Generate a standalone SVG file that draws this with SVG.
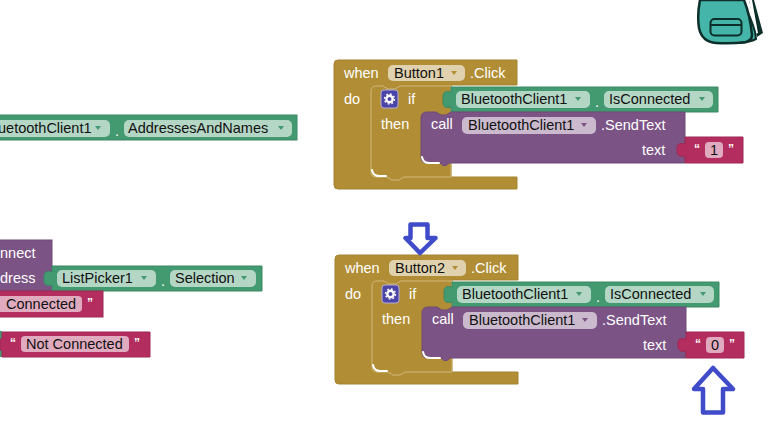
<svg xmlns="http://www.w3.org/2000/svg" width="774" height="433" viewBox="0 0 774 433">
<style>
text{font-family:"Liberation Sans",Arial,sans-serif;font-size:14.5px}
.w{fill:#fff}
.d{fill:#111}
.q{fill:#fff;font-size:12px;font-weight:bold}
.gold{fill:#b18e35;stroke:#a38330;stroke-width:1}
.goldin{fill:#b18e35;stroke:#d0b878;stroke-width:1}
.purple{fill:#7c5385;stroke:#6e4a76;stroke-width:1}
.green{fill:#439970;stroke:#3b8a64;stroke-width:1}
.pink{fill:#b32d5e;stroke:#a02954;stroke-width:1}
.fg{fill:#b4d6c5}
.fp{fill:#cbbace}
.fy{fill:#e0d2ae}
.fr{fill:#e0abbf}
.hl{fill:none;stroke:#fff;stroke-width:2;stroke-linecap:round}
.arr{fill:#fff;stroke:#3f4bc8;stroke-width:4.500;stroke-linejoin:round}
</style>
<defs>
<!-- Event handler body shared by both Click blocks -->
<g id="event-shell">
<path class="gold" d="M338 60H517V85H451V177H517V189H338Q334 189 334 185V64Q334 60 338 60Z"/>
<path class="goldin" d="M376 86H383L388 89H395L400 86H451V177H404L399 180H392L387 177H376Q371 177 371 172V91Q371 86 376 86Z"/>
<path class="hl" d="M372 170Q373 176 379 176H386"/>
<rect x="381" y="90" width="17" height="18" rx="3" fill="#4c45a8" stroke="#b5aed8"/>
<circle cx="389.500" cy="99" r="3.200" fill="none" stroke="#fff" stroke-width="2.400"/>
<circle cx="389.500" cy="99" r="5" fill="none" stroke="#fff" stroke-width="1.400" stroke-dasharray="1.800 2.100"/>
<text class="w" x="344" y="78">when</text>
<text class="w" x="344" y="104">do</text>
<text class="w" x="408" y="104">if</text>
<text class="w" x="381" y="129">then</text>
<text class="w" x="470" y="78">.Click</text>
</g>
<!-- Lookup and method blocks inside the handler -->
<g id="event-calls">
<path class="green" d="M451 87H718V112H451V107Q447 108 445 107Q443 106 443 103V96Q443 93 445 92Q447 91 451 92Z"/>
<path class="purple" d="M427 112H436L441 115H446L451 112H685V163H449L446 165.500H443L440 163H427Q421 163 421 157V118Q421 112 427 112Z"/>
<path class="hl" d="M422 157Q423 163 429 163H439"/>
<rect x="456" y="91" width="134" height="17" rx="5" class="fg"/>
<rect x="604" y="91" width="109" height="17" rx="5" class="fg"/>
<rect x="462" y="117" width="134" height="17" rx="5" class="fp"/>
<text class="d" x="461" y="104">BluetoothClient1</text>
<text class="d" x="609" y="104">IsConnected</text>
<text class="d" x="468" y="130">BluetoothClient1</text>
<text class="w" x="601" y="130">.SendText</text>
<text class="w" x="431" y="129">call</text>
<text class="w" x="642" y="155">text</text>
<text class="w" x="595" y="107">.</text>
<path d="M575 97h6l-3 4z M699 97h6l-3 4z" fill="#439970"/>
<path d="M581 123h6l-3 4z" fill="#7c5385"/>
</g>
<!-- Text block socket shape -->
<path id="text-shell" class="pink" d="M685 137H743V163H685V156Q681 157 679 155.500Q677 154 677 152V147Q677 145 679 144Q681 143 685 144Z"/>
</defs>

<!-- Backpack icon in the top corner -->
<g id="backpack">
<path d="M754 0L763 33L757 37L749 0Z" fill="#0d2f2a"/>
<path d="M749 0L755 34L758 33L752 0Z" fill="#fff"/>
<path d="M742 0Q752 20 755 32L756 39Q750 42 740 43Z" fill="#3fb3a6" stroke="#0d2f2a" stroke-width="2"/>
<path d="M700 0Q697 15 699 28Q702 42 716 43Q732 44 746 42Q752 40 752 35Q750 15 744 0Z" fill="#44b5a8" stroke="#0d2f2a" stroke-width="2.500"/>
<rect x="710.500" y="19" width="31" height="16.500" rx="4" fill="#44b5a8" stroke="#0d2f2a" stroke-width="2"/>
<path d="M710 25H742" stroke="#0d2f2a" stroke-width="2"/>
</g>

<!-- Button1 handler -->
<g id="button1-click">
<use href="#event-shell"/>
<rect x="388" y="65" width="77" height="16" rx="5" class="fy"/>
<text class="d" x="394" y="78">Button1</text>
<path d="M451 71h6l-3 4z" fill="#b18e35"/>
<use href="#event-calls"/>
<use href="#text-shell"/>
<text class="q" x="694" y="153">“</text>
<rect x="705" y="142" width="18" height="16" rx="4" class="fr"/>
<text class="d" x="710" y="155">1</text>
<text class="q" x="728" y="153">”</text>
</g>

<!-- Button2 handler -->
<g id="button2-click">
<g transform="translate(1 195)">
<use href="#event-shell"/>
<rect x="388" y="65" width="77" height="16" rx="5" class="fy"/>
<text class="d" x="394" y="78">Button2</text>
<path d="M451 71h6l-3 4z" fill="#b18e35"/>
<use href="#event-calls"/>
<use href="#text-shell"/>
<text class="q" x="694" y="153">“</text>
<rect x="705" y="142" width="18" height="16" rx="4" class="fr"/>
<text class="d" x="710" y="155">0</text>
<text class="q" x="728" y="153">”</text>
</g>
</g>

<!-- Blocks running off the left edge -->
<g id="addresses-lookup">
<rect x="-5" y="115" width="302" height="25" class="green"/>
<rect x="-5" y="120" width="115" height="17" rx="5" class="fg"/>
<rect x="124" y="120" width="168" height="17" rx="5" class="fg"/>
<text class="d" x="-2" y="133">uetoothClient1</text>
<text class="d" x="128" y="133">AddressesAndNames</text>
<text class="w" x="115" y="136">.</text>
<path d="M95 126h6l-3 4z M278 126h6l-3 4z" fill="#439970"/>
</g>
<g id="connect-call">
<rect x="-5" y="240" width="57" height="51" class="purple"/>
<text class="w" x="0" y="258">nnect</text>
<text class="w" x="0" y="283">dress</text>
</g>
<g id="selection-lookup">
<path class="green" d="M52 266H262V291H52V285Q48 286 46 285Q44 284 44 281V276Q44 273 46 272Q48 271 52 272Z"/>
<rect x="57" y="270" width="99" height="17" rx="5" class="fg"/>
<rect x="170" y="270" width="86" height="17" rx="5" class="fg"/>
<text class="d" x="62" y="283">ListPicker1</text>
<text class="d" x="175" y="283">Selection</text>
<text class="w" x="161" y="286">.</text>
<path d="M141 276h6l-3 4z M241 276h6l-3 4z" fill="#439970"/>
</g>
<g id="connected-text">
<rect x="-5" y="291" width="108" height="26" class="pink"/>
<rect x="-5" y="296" width="87" height="16" rx="4" class="fr"/>
<text class="d" x="6" y="309">Connected</text>
<text class="q" x="87" y="307">”</text>
</g>
<g id="not-connected-text">
<rect x="-5" y="331" width="7" height="26" fill="#439970"/>
<path class="pink" d="M2 332H150V357H2V350L0 350V339L2 339Z"/>
<text class="q" x="10" y="347">“</text>
<rect x="21" y="336" width="108" height="16" rx="4" class="fr"/>
<text class="d" x="26" y="349">Not Connected</text>
<text class="q" x="134" y="347">”</text>
</g>

<!-- Callout arrows -->
<g id="arrow-down">
<path class="arr" d="M410.500 224.500H427.500V238H435.500L420 253L405.500 238H410.500Z"/>
</g>
<g id="arrow-up">
<path class="arr" d="M713 368L733 389H723V412.500H703V389H694Z"/>
</g>
</svg>
